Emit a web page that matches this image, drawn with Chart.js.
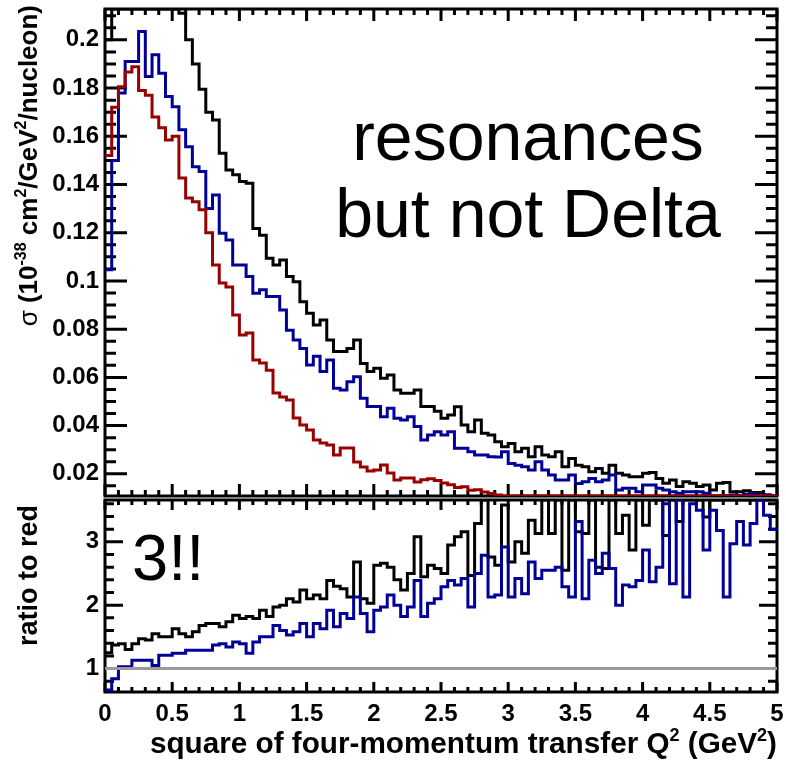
<!DOCTYPE html>
<html>
<head>
<meta charset="utf-8">
<script src="https://cdn.jsdelivr.net/npm/chart.js@4/dist/chart.umd.min.js"></script>
<style>
  html, body { margin: 0; padding: 0; background: #fff; }
  #topBox { position: absolute; left: 0; top: 0; width: 786px; height: 498px; }
  #botBox { position: absolute; left: 0; top: 497px; width: 786px; height: 266px; }
</style>
</head>
<body>
<div id="topBox"><canvas id="topChart"></canvas></div>
<div id="botBox"><canvas id="botChart"></canvas></div>
<script>
'use strict';

// Q^2 binning: 100 bins of 0.05 GeV^2 from 0 to 5
const binWidth = 0.05;
const xTicks = [0, 0.5, 1, 1.5, 2, 2.5, 3, 3.5, 4, 4.5, 5];

// top panel: sigma, 10^-38 cm^2/GeV^2/nucleon
const sigmaBlack = [
  0.200, 0.235, 0.255, 0.270, 0.275, 0.265, 0.260, 0.250, 0.245, 0.235,
  0.225, 0.211, 0.200, 0.190, 0.1795, 0.170, 0.1668, 0.153, 0.146, 0.144,
  0.1412, 0.1405, 0.1218, 0.119, 0.1094, 0.1066, 0.1087, 0.1018, 0.0997, 0.0914,
  0.0866, 0.0817, 0.0838, 0.0755, 0.0707, 0.0707, 0.072, 0.0755, 0.0658, 0.0624,
  0.0638, 0.0596, 0.061, 0.0548, 0.0534, 0.0534, 0.0548, 0.0479, 0.0479, 0.046,
  0.043, 0.0444, 0.0478, 0.0402, 0.0375, 0.0423, 0.0368, 0.0361, 0.0333, 0.0312,
  0.0326, 0.0292, 0.0306, 0.0271, 0.0312, 0.0278, 0.0271, 0.0292, 0.0229, 0.0264,
  0.0236, 0.0229, 0.0209, 0.0222, 0.0202, 0.0236, 0.0202, 0.0195, 0.0188, 0.0188,
  0.0202, 0.0205, 0.0181, 0.0161, 0.0174, 0.0147, 0.0167, 0.0161, 0.0147, 0.0154,
  0.0133, 0.0161, 0.0164, 0.0126, 0.0126, 0.013, 0.0122, 0.0122, 0.0112, 0.0105
];
const sigmaBlue = [
  0.1046, 0.150, 0.178, 0.191, 0.191, 0.2035, 0.1848, 0.1938, 0.1862, 0.1765,
  0.1723, 0.1627, 0.1557, 0.1474, 0.1454, 0.130, 0.1357, 0.1198, 0.117, 0.1066,
  0.1066, 0.1018, 0.0949, 0.0963, 0.0935, 0.0935, 0.088, 0.0795, 0.0755, 0.072,
  0.0651, 0.0688, 0.0624, 0.0672, 0.0555, 0.0548, 0.0582, 0.0603, 0.0513, 0.0479,
  0.0479, 0.0437, 0.0472, 0.043, 0.0423, 0.0437, 0.0396, 0.034, 0.0361, 0.0375,
  0.0361, 0.0375, 0.0306, 0.0306, 0.0292, 0.0278, 0.0278, 0.0271, 0.027, 0.0292,
  0.0243, 0.0236, 0.0229, 0.0216, 0.025, 0.0216, 0.0195, 0.0174, 0.0174, 0.0195,
  0.016, 0.0167, 0.0181, 0.0167, 0.0174, 0.0195, 0.0133, 0.014, 0.014, 0.0126,
  0.0154, 0.0154, 0.014, 0.0133, 0.0126, 0.0119, 0.0126, 0.0126, 0.0126, 0.0119,
  0.0105, 0.0108, 0.010, 0.0112, 0.0098, 0.0115, 0.0118, 0.0105, 0.0112, 0.0108
];
const sigmaRed = [
  0.152, 0.172, 0.1806, 0.1867, 0.1888, 0.179, 0.177, 0.168, 0.1635, 0.1585,
  0.160, 0.1427, 0.1344, 0.1328, 0.1295, 0.120, 0.1066, 0.0992, 0.0975, 0.0859,
  0.0776, 0.0784, 0.0672, 0.066, 0.063, 0.0535, 0.0519, 0.0506, 0.0432, 0.0402,
  0.0382, 0.034, 0.0328, 0.032, 0.0278, 0.0307, 0.0307, 0.0249, 0.0228, 0.0212,
  0.0216, 0.0237, 0.0203, 0.0174, 0.0183, 0.0183, 0.0166, 0.0175, 0.018, 0.0172,
  0.0162, 0.0155, 0.0143, 0.0146, 0.0132, 0.0134, 0.0125, 0.0118, 0.0112, 0.0106,
  0.0101, 0.0097, 0.0094, 0.0090, 0.0087, 0.0084, 0.0081, 0.0078, 0.0075, 0.0073,
  0.0070, 0.0068, 0.0066, 0.0063, 0.0061, 0.0059, 0.0057, 0.0056, 0.0054, 0.0052,
  0.0050, 0.0049, 0.0047, 0.0046, 0.0044, 0.0043, 0.0042, 0.0040, 0.0039, 0.0038,
  0.0037, 0.0036, 0.0035, 0.0034, 0.0033, 0.0032, 0.0031, 0.0030, 0.0029, 0.0028
];
const sigmaTicks = [0.02, 0.04, 0.06, 0.08, 0.1, 0.12, 0.14, 0.16, 0.18, 0.2];

// bottom panel: ratio to red
const ratioBlack = [
  1.25, 1.37, 1.39, 1.30, 1.39, 1.47, 1.45, 1.55, 1.50, 1.50,
  1.63, 1.55, 1.50, 1.58, 1.68, 1.71, 1.71, 1.66, 1.74, 1.84,
  1.79, 1.82, 1.79, 1.92, 1.82, 1.97, 2.00, 2.10, 2.05, 2.24,
  2.10, 2.16, 2.10, 2.39, 2.30, 2.26, 2.13, 2.68, 2.10, 2.03,
  2.63, 2.66, 2.60, 2.40, 2.24, 2.50, 3.08, 2.45, 2.63, 2.58,
  2.50, 2.95, 3.08, 3.16, 2.47, 3.29, 4.10, 2.76, 2.63, 3.58,
  2.68, 3.00, 2.82, 3.34, 3.13, 3.90, 3.13, 4.00, 2.55, 3.80,
  3.16, 3.13, 3.90, 2.60, 2.58, 3.80, 3.13, 3.42, 2.87, 3.90,
  3.26, 3.80, 3.90, 3.10, 3.80, 3.32, 4.00, 3.70, 3.90, 3.39,
  3.90, 4.20, 3.80, 4.50, 3.70, 4.00, 4.30, 3.90, 4.10, 3.80
];
const ratioBlue = [
  0.66, 0.84, 1.03, 1.03, 1.13, 1.13, 1.13, 1.05, 1.21, 1.21,
  1.24, 1.24, 1.29, 1.29, 1.29, 1.29, 1.37, 1.39, 1.34, 1.42,
  1.39, 1.24, 1.42, 1.50, 1.50, 1.68, 1.60, 1.53, 1.58, 1.71,
  1.50, 1.71, 1.63, 1.92, 1.66, 1.87, 1.79, 2.13, 1.87, 1.58,
  1.92, 1.97, 2.16, 2.00, 1.82, 1.97, 2.39, 1.82, 2.03, 2.10,
  2.29, 2.39, 2.32, 2.42, 1.97, 2.50, 2.79, 2.13, 2.16, 2.92,
  2.13, 2.42, 2.18, 2.68, 2.42, 2.55, 2.55, 2.60, 2.29, 2.13,
  3.32, 2.10, 2.71, 2.50, 2.82, 2.58, 2.00, 2.32, 2.29, 2.39,
  2.87, 2.37, 2.60, 3.60, 2.34, 3.90, 2.13, 3.60, 3.50, 2.87,
  3.50, 3.18, 2.13, 2.97, 3.32, 2.95, 3.29, 3.90, 3.42, 3.20
];
const ratioTicks = [1, 2, 3];
const refLevel = 1;

const FONT = '"Liberation Sans", Arial, Helvetica, sans-serif';
const C_BLACK = '#000000', C_BLUE = '#000099', C_RED = '#990000', C_GRAY = '#9a9a9a';
const TOP_Y = { min: 0.0108, max: 0.2128 };
const BOT_Y = { min: 0.63, max: 3.66 };

// ROOT draws out-of-range bins along the frame edge, so clamp to the axis range
function histPoints(vals, lim) {
    const clamp = v => Math.min(Math.max(v, lim.min), lim.max);
    const pts = vals.map((v, i) => ({ x: i * binWidth, y: clamp(v) }));
    pts.push({ x: vals.length * binWidth, y: clamp(vals[vals.length - 1]) });
    return pts;
}

function histSet(vals, color, lim) {
    return { data: histPoints(vals, lim), borderColor: color, borderWidth: 3,
             pointRadius: 0, stepped: true, fill: false, tension: 0 };
}

const fmt = v => String(+v.toFixed(3));

// keep label overhang from shrinking the plot area
const noPad = s => { s.paddingTop = 0; s.paddingBottom = 0; s.paddingLeft = 0; s.paddingRight = 0; };

function partFont(p, size) {
    const s = p.sup ? Math.round(size * 0.6) : size;
    return (p.w || 'bold') + ' ' + s + 'px ' + FONT;
}
function drawRich(ctx, parts, x, y, size) {
    // right-aligned at (x, y)
    let w = 0;
    for (const p of parts) { ctx.font = partFont(p, size); w += ctx.measureText(p.t).width; }
    let cx = x - w;
    ctx.textAlign = 'left';
    ctx.textBaseline = 'alphabetic';
    for (const p of parts) {
        ctx.font = partFont(p, size);
        ctx.fillText(p.t, cx, p.sup ? y - size * 0.42 : y);
        cx += ctx.measureText(p.t).width;
    }
}

// frame with inward ticks on all four sides, ROOT style
function rootPad(cfg) {
    return {
        id: 'rootPad',
        beforeDatasetsDraw(chart) {
            const { ctx, chartArea: a, scales: { x, y } } = chart;
            ctx.save();
            ctx.strokeStyle = '#000';
            ctx.lineWidth = 3;
            ctx.beginPath();
            for (let i = 0; i <= 50; i++) {
                const px = x.getPixelForValue(i * 0.1);
                const len = i % 5 === 0 ? cfg.xMajor : cfg.xMajor / 2;
                ctx.moveTo(px, a.bottom); ctx.lineTo(px, a.bottom - len);
                ctx.moveTo(px, a.top);    ctx.lineTo(px, a.top + len);
            }
            const k0 = Math.ceil(y.min / cfg.yMinor), k1 = Math.floor(y.max / cfg.yMinor);
            for (let k = k0; k <= k1; k++) {
                const py = y.getPixelForValue(k * cfg.yMinor);
                const len = k % cfg.perMajor === 0 ? cfg.yMajor : cfg.yMajor / 2;
                ctx.moveTo(a.left, py);  ctx.lineTo(a.left + len, py);
                ctx.moveTo(a.right, py); ctx.lineTo(a.right - len, py);
            }
            ctx.stroke();
            ctx.strokeRect(a.left, a.top, a.right - a.left, a.bottom - a.top);
            ctx.restore();
        },
        afterDraw(chart) {
            const ctx = chart.ctx;
            ctx.save();
            ctx.fillStyle = '#000';
            cfg.text(ctx, chart);
            ctx.restore();
        }
    };
}

function yAxis(lim, step, ticks) {
    return {
        type: 'linear', position: 'left', min: lim.min, max: lim.max,
        afterFit: s => { s.width = 105; noPad(s); },
        afterBuildTicks: s => { s.ticks = ticks.map(v => ({ value: v })); },
        grid: { display: false, drawTicks: false }, border: { display: false },
        ticks: { stepSize: step, includeBounds: false, padding: 6, color: '#000',
                 font: { family: FONT, weight: 'bold', size: 24 }, callback: fmt }
    };
}

new Chart(document.getElementById('topChart'), {
    type: 'line',
    data: { datasets: [
        histSet(sigmaRed, C_RED, TOP_Y),
        histSet(sigmaBlue, C_BLUE, TOP_Y),
        histSet(sigmaBlack, C_BLACK, TOP_Y)
    ] },
    options: {
        animation: false, responsive: true, maintainAspectRatio: false,
        layout: { padding: { top: 9, right: 9, bottom: 2, left: 0 } },
        plugins: { legend: { display: false }, tooltip: { enabled: false } },
        scales: {
            x: { type: 'linear', min: 0, max: 5, display: false },
            y: yAxis(TOP_Y, 0.02, sigmaTicks)
        }
    },
    plugins: [rootPad({
        xMajor: 12, yMajor: 22, yMinor: 0.005, perMajor: 4,
        text(ctx) {
            ctx.font = '68px ' + FONT;
            ctx.textAlign = 'center';
            ctx.textBaseline = 'alphabetic';
            ctx.fillText('resonances', 528, 160);
            ctx.fillText('but not Delta', 528, 237);
            ctx.translate(37, 5);
            ctx.rotate(-Math.PI / 2);
            drawRich(ctx, [
                { t: 'σ', w: 'normal' }, { t: ' (10' }, { t: '-38', sup: true },
                { t: ' cm' }, { t: '2', sup: true }, { t: '/GeV' }, { t: '2', sup: true },
                { t: '/nucleon)' }
            ], 0, 0, 26);
        }
    })]
});

new Chart(document.getElementById('botChart'), {
    type: 'line',
    data: { datasets: [
        { data: [{ x: 0, y: refLevel }, { x: 5, y: refLevel }], borderColor: C_GRAY,
          borderWidth: 3, pointRadius: 0, fill: false },
        histSet(ratioBlue, C_BLUE, BOT_Y),
        histSet(ratioBlack, C_BLACK, BOT_Y)
    ] },
    options: {
        animation: false, responsive: true, maintainAspectRatio: false,
        layout: { padding: { top: 3, right: 9, bottom: 0, left: 0 } },
        plugins: { legend: { display: false }, tooltip: { enabled: false } },
        scales: {
            x: {
                type: 'linear', min: 0, max: 5,
                afterFit: s => { s.height = 71; noPad(s); },
                afterBuildTicks: s => { s.ticks = xTicks.map(v => ({ value: v })); },
                grid: { display: false, drawTicks: false }, border: { display: false },
                ticks: { stepSize: 0.5, includeBounds: false, autoSkip: false, maxRotation: 0,
                         padding: 8, color: '#000',
                         font: { family: FONT, weight: 'bold', size: 24 }, callback: fmt }
            },
            y: yAxis(BOT_Y, 1, ratioTicks)
        }
    },
    plugins: [rootPad({
        xMajor: 10, yMajor: 18, yMinor: 0.2, perMajor: 5,
        text(ctx) {
            ctx.font = '65px ' + FONT;
            ctx.textAlign = 'left';
            ctx.textBaseline = 'alphabetic';
            ctx.fillText('3!!', 132, 83);
            drawRich(ctx, [
                { t: 'square of four-momentum transfer Q' }, { t: '2', sup: true },
                { t: ' (GeV' }, { t: '2', sup: true }, { t: ')' }
            ], 777, 256, 29.7);
            ctx.translate(37, 8);
            ctx.rotate(-Math.PI / 2);
            drawRich(ctx, [{ t: 'ratio to red' }], 0, 0, 27);
        }
    })]
});
</script>
</body>
</html>
